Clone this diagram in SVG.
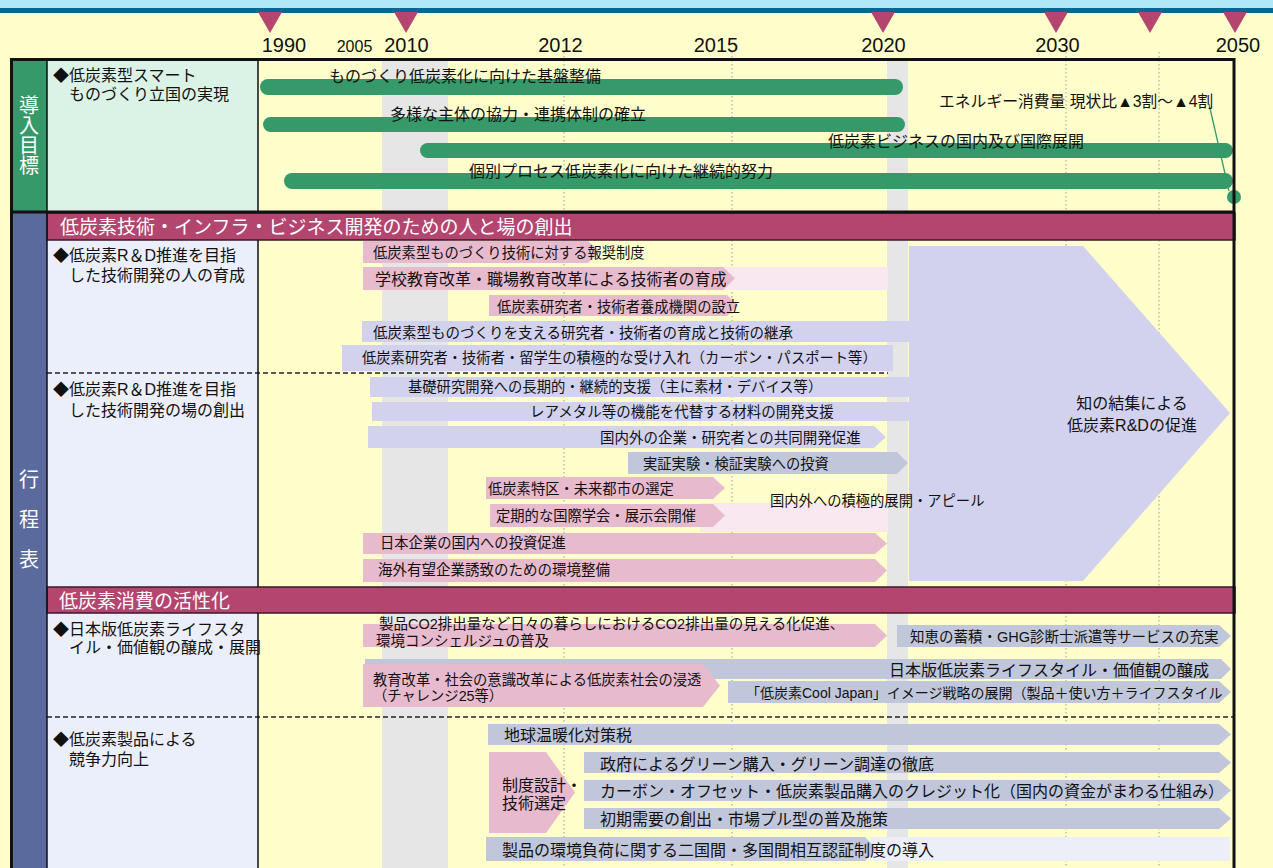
<svg xmlns="http://www.w3.org/2000/svg" width="1273" height="868" viewBox="0 0 1273 868">
<style>
text{font-family:"Liberation Sans","Noto Sans CJK JP",sans-serif;fill:#111}
.yr{font-size:20px;text-anchor:middle}
.pk{fill:#E8BACD}
.lp{fill:#F9E8F0}
.lv{fill:#D2D2EF}
.gb{fill:#C1C7DB}
.gr{fill:#36996A}
.t14{font-size:14.3px}
.t145{font-size:14.5px}
.t16{font-size:16px}
.hd{font-size:19px;fill:#fff}
.vt{font-size:20px;fill:#fff;text-anchor:middle}
.dot{stroke:#9a9a9a;stroke-width:1;stroke-dasharray:1.5 2.5;fill:none}
.dash{stroke:#222;stroke-width:1.3;stroke-dasharray:5 3;fill:none}
.tri{fill:#B4456F}
.fr{stroke:#111;fill:none}
</style>
<defs></defs>
<g id="background">
<rect x="0" y="0" width="1273" height="868" fill="#FFFFCC"/>
<rect x="0" y="0" width="1273" height="8" fill="#B0E8FA"/>
<rect x="0" y="8" width="1273" height="5" fill="#05698F"/>
</g>
<g id="timeline-axis">
<polygon class="tri" points="258,12 282,12 270,33"/>
<polygon class="tri" points="394,12 418,12 406,33"/>
<polygon class="tri" points="871,12 895,12 883,33"/>
<polygon class="tri" points="1044,12 1068,12 1056,33"/>
<polygon class="tri" points="1138,12 1162,12 1150,33"/>
<polygon class="tri" points="1223,12 1247,12 1235,33"/>
<text class="yr" x="284" y="52">1990</text>
<text x="354.5" y="52" style="font-size:16px;text-anchor:middle">2005</text>
<text class="yr" x="406.5" y="52">2010</text>
<text class="yr" x="560.5" y="52">2012</text>
<text class="yr" x="716" y="52">2015</text>
<text class="yr" x="883.5" y="52">2020</text>
<text class="yr" x="1057.5" y="52">2030</text>
<text class="yr" x="1238" y="52">2050</text>
</g>
<g id="cells">
<rect x="12" y="60" width="35" height="152" fill="#36996A"/>
<rect x="47" y="60" width="211" height="152" fill="#DBF3E7"/>
<rect x="12" y="212" width="35" height="656" fill="#5B6A9D"/>
<rect x="47" y="240" width="211" height="347" fill="#EBEFFB"/>
<rect x="47" y="613" width="211" height="255" fill="#EBEFFB"/>
</g>
<g id="bands">
<rect x="382" y="61" width="66" height="807" fill="#E6E6E6"/>
<rect x="887" y="61" width="21" height="807" fill="#E6E6E6"/>
<line class="dot" x1="564" y1="52" x2="564" y2="868"/>
<line class="dot" x1="732" y1="52" x2="732" y2="868"/>
<line class="dot" x1="1066" y1="52" x2="1066" y2="868"/>
<line class="dot" x1="1159" y1="52" x2="1159" y2="868"/>
</g>
<g id="goal">
<text class="vt" x="29" y="113">導</text>
<text class="vt" x="29" y="133">入</text>
<text class="vt" x="29" y="153">目</text>
<text class="vt" x="29" y="173">標</text>
<text class="t16" x="53" y="81">◆低炭素型スマート</text>
<text class="t16" x="53" y="100">　ものづくり立国の実現</text>
</g>
<g id="goal-bars">
<rect class="gr" x="260" y="79" width="643" height="16" rx="8"/>
<rect class="gr" x="263" y="117" width="642" height="15" rx="7.5"/>
<rect class="gr" x="420" y="143" width="813" height="15" rx="7.5"/>
<rect class="gr" x="284" y="173" width="949" height="16" rx="8"/>
<text class="t16" x="329" y="82">ものづくり低炭素化に向けた基盤整備</text>
<text class="t16" x="390" y="120">多様な主体の協力・連携体制の確立</text>
<text class="t16" x="828" y="147">低炭素ビジネスの国内及び国際展開</text>
<text class="t16" x="469" y="177">個別プロセス低炭素化に向けた継続的努力</text>
</g>
<g id="goal-target">
<line x1="1209" y1="104" x2="1229" y2="191" stroke="#36996A" stroke-width="1.3"/>
<circle cx="1234" cy="197" r="7" fill="#36996A"/>
<text x="939" y="107" style="font-size:15.8px">エネルギー消費量 現状比▲3割～▲4割</text>
</g>
<g id="plan-label">
<text class="vt" x="29" y="487">行</text>
<text class="vt" x="29" y="527">程</text>
<text class="vt" x="29" y="567">表</text>
</g>
<g id="header1">
<rect x="47" y="213" width="1188" height="27" fill="#B4456F" stroke="#3b1a28" stroke-width="1.5"/>
<text class="hd" x="60" y="234">低炭素技術・インフラ・ビジネス開発のための人と場の創出</text>
</g>
<g id="cell-people">
<text class="t16" x="53" y="261">◆低炭素R＆D推進を目指</text>
<text class="t16" x="53" y="281">　した技術開発の人の育成</text>
</g>
<g id="cell-place">
<text class="t16" x="53" y="395">◆低炭素R＆D推進を目指</text>
<text class="t16" x="53" y="416">　した技術開発の場の創出</text>
</g>
<g id="big-arrow">
<polygon class="lv" points="909,246 1083,246 1230,413 1083,581 909,581"/>
<text x="1132" y="409" style="font-size:16px;text-anchor:middle">知の結集による</text>
<text x="1132" y="431" style="font-size:16px;text-anchor:middle">低炭素R&amp;Dの促進</text>
</g>
<g id="people-bars">
<polygon class="pk" points="363,241 588,241 600,252 588,263 363,263"/>
<text class="t14" x="373" y="258">低炭素型ものづくり技術に対する報奨制度</text>
<rect class="lp" x="720" y="267" width="168" height="23"/>
<polygon class="pk" points="363,267 723,267 735,278.5 723,290 363,290"/>
<text class="t16" x="375" y="285">学校教育改革・職場教育改革による技術者の育成</text>
<polygon class="pk" points="489,295 727,295 738,305.5 727,316 489,316"/>
<text class="t14" x="497" y="312">低炭素研究者・技術者養成機関の設立</text>
<rect class="lv" x="362" y="321" width="547" height="21"/>
<text class="t145" x="373" y="338">低炭素型ものづくりを支える研究者・技術者の育成と技術の継承</text>
<rect class="lv" x="342" y="345" width="551" height="26"/>
<text class="t14" x="362" y="363">低炭素研究者・技術者・留学生の積極的な受け入れ（カーボン・パスポート等）</text>
</g>
<g id="place-bars">
<rect class="lv" x="370" y="377" width="539" height="20"/>
<text class="t14" x="408" y="392">基礎研究開発への長期的・継続的支援（主に素材・デバイス等）</text>
<rect class="lv" x="372" y="402" width="537" height="19"/>
<text class="t145" x="530" y="417">レアメタル等の機能を代替する材料の開発支援</text>
<polygon class="lv" points="368,426 874,426 886,437 874,448 368,448"/>
<text class="t145" x="600" y="443">国内外の企業・研究者との共同開発促進</text>
<polygon class="gb" points="628,452 897,452 908,463 897,474 628,474"/>
<text class="t14" x="643" y="469">実証実験・検証実験への投資</text>
<polygon class="pk" points="486,477 713,477 725,488 713,499 486,499"/>
<text class="t14" x="488" y="494">低炭素特区・未来都市の選定</text>
<rect class="lp" x="700" y="503" width="188" height="29"/>
<polygon class="pk" points="490,504 713,504 725,515.5 713,527 490,527"/>
<text class="t14" x="496" y="521">定期的な国際学会・展示会開催</text>
<text class="t14" x="770" y="506">国内外への積極的展開・アピール</text>
<polygon class="pk" points="363,533 875,533 887,543.5 875,554 363,554"/>
<text class="t14" x="380" y="548">日本企業の国内への投資促進</text>
<polygon class="pk" points="363,559 875,559 887,570.5 875,582 363,582"/>
<text class="t145" x="378" y="575">海外有望企業誘致のための環境整備</text>
</g>
<g id="header2">
<rect x="47" y="587" width="1188" height="26" fill="#B4456F" stroke="#3b1a28" stroke-width="1.5"/>
<text class="hd" x="59" y="608">低炭素消費の活性化</text>
</g>
<g id="cell-lifestyle">
<text class="t16" x="53" y="635">◆日本版低炭素ライフスタ</text>
<text class="t16" x="53" y="653">　イル・価値観の醸成・展開</text>
</g>
<g id="cell-products">
<text class="t16" x="53" y="745">◆低炭素製品による</text>
<text class="t16" x="53" y="765">　競争力向上</text>
</g>
<g id="lifestyle-bars">
<polygon class="pk" points="363,624 875,624 887,635.5 875,647 363,647"/>
<text class="t145" x="379" y="629">製品CO2排出量など日々の暮らしにおけるCO2排出量の見える化促進、</text>
<text class="t145" x="376" y="646">環境コンシェルジュの普及</text>
<polygon class="gb" points="897,625 1219,625 1231,636 1219,647 897,647"/>
<text class="t145" x="910" y="642">知恵の蓄積・GHG診断士派遣等サービスの充実</text>
<polygon class="gb" points="365,659 1221,659 1231,669 1221,679 365,679"/>
<text class="t16" x="889" y="676">日本版低炭素ライフスタイル・価値観の醸成</text>
<polygon class="pk" points="363,664 703,664 720,685.5 703,707 363,707"/>
<text class="t14" x="373" y="685">教育改革・社会の意識改革による低炭素社会の浸透</text>
<text class="t14" x="373" y="701">（チャレンジ25等）</text>
<polygon class="gb" points="728,681 1219,681 1231,692 1219,703 728,703"/>
<text x="746" y="698" style="font-size:14px">「低炭素Cool Japan」イメージ戦略の展開（製品＋使い方＋ライフスタイル</text>
</g>
<g id="product-bars">
<polygon class="gb" points="488,724 1219,724 1231,734.5 1219,745 488,745"/>
<text class="t16" x="504" y="741">地球温暖化対策税</text>
<polygon class="pk" points="489,752 546,752 575,792.5 546,833 489,833"/>
<text class="t16" x="502" y="791">制度設計・</text>
<text class="t16" x="502" y="809">技術選定</text>
<polygon class="gb" points="584,752 1219,752 1231,762.5 1219,773 584,773"/>
<text class="t16" x="600" y="770">政府によるグリーン購入・グリーン調達の徹底</text>
<polygon class="gb" points="584,780 1219,780 1231,790.5 1219,801 584,801"/>
<text class="t16" x="600" y="797">カーボン・オフセット・低炭素製品購入のクレジット化（国内の資金がまわる仕組み）</text>
<polygon class="gb" points="584,808 1219,808 1231,818.5 1219,829 584,829"/>
<text class="t16" x="600" y="825">初期需要の創出・市場プル型の普及施策</text>
<rect x="870" y="837" width="360" height="24" fill="#EDEFF8"/>
<polygon class="gb" points="486,837 865,837 877,849 865,861 486,861"/>
<text class="t16" x="502" y="856">製品の環境負荷に関する二国間・多国間相互認証制度の導入</text>
</g>
<g id="connectors">
<line class="dash" x1="47" y1="373" x2="888" y2="373"/>
<line class="dash" x1="47" y1="717" x2="1233" y2="717"/>
</g>
<g id="frame">
<rect class="fr" x="11.5" y="59.5" width="1222.5" height="830" stroke-width="3"/>
<line class="fr" x1="11" y1="212" x2="1235" y2="212" stroke-width="3"/>
<line class="fr" x1="47" y1="60" x2="47" y2="868" stroke-width="1.5"/>
<line class="fr" x1="258" y1="60" x2="258" y2="212" stroke-width="1.5"/>
<line class="fr" x1="258" y1="240" x2="258" y2="587" stroke-width="1.5"/>
<line class="fr" x1="258" y1="613" x2="258" y2="868" stroke-width="1.5"/>
</g>
</svg>
